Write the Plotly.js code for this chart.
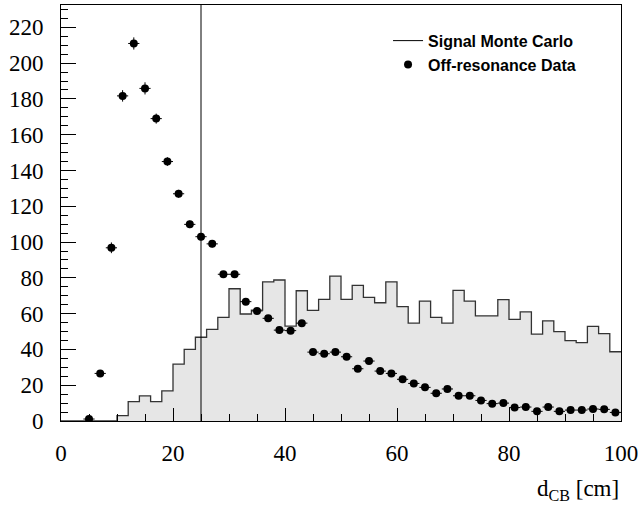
<!DOCTYPE html>
<html><head><meta charset="utf-8">
<script src="https://cdn.plot.ly/plotly-3.0.1.min.js"></script>
<style>html,body{margin:0;padding:0;background:#fff}#chart{width:640px;height:507px}</style>
</head><body><div id="chart"></div>
<script>
// Signal Monte Carlo histogram: 50 bins of width 2 cm from 0 to 100
const binEdges = [0,2,4,6,8,10,12,14,16,18,20,22,24,26,28,30,32,34,36,38,40,42,44,46,48,50,52,54,56,58,60,62,64,66,68,70,72,74,76,78,80,82,84,86,88,90,92,94,96,98,100];
const mcCounts = [0,0,0,0,0,3,10.8,14,10.8,16.8,31.8,40,46.8,51.2,57.9,73.9,59.8,62,77.8,78.8,53,72.8,61.8,68,81,68,75.8,69.1,66.1,77.8,63.9,54.7,67,57.9,54.7,73,67,58.8,58.8,67.8,56.8,61,48.6,56,49.9,44.9,43.8,52.9,48.8,38.7];

// Off-resonance data points
const dataX = [5,7,9,11,13,15,17,19,21,23,25,27,29,31,33,35,37,39,41,43,45,47,49,51,53,55,57,59,61,63,65,67,69,71,73,75,77,79,81,83,85,87,89,91,93,95,97,99];
const dataY = [1.1,26.6,96.8,181.7,211,185.9,169,145,127,109.9,103,99,82,82,66.7,61.5,57.4,50.8,50.5,54.7,38.5,37.6,38.5,35.9,29.2,33.5,27.9,26.6,23.3,21,18.8,15.5,17.9,14.1,14.1,11.5,9.7,10,7.5,7.8,5.4,7.8,5.4,6.1,6.1,6.7,6.5,4.8];
const dataErrY = [0.8,1.8,3,3.2,3.4,3.4,2.8,2.4,2.2,2.1,2,2,1.8,1.8,1.6,1.6,1.5,1.4,1.4,1.5,1.2,1.2,1.2,1.2,1.1,1.1,1,1,1,0.9,0.9,0.8,0.8,0.8,0.8,0.7,0.7,0.7,0.6,0.6,0.5,0.6,0.5,0.5,0.5,0.5,0.5,0.5];
const dataErrX = 1; // half bin width

const cutValue = 25;
const xTickVals = [0,20,40,60,80,100];
const yTickVals = [0,20,40,60,80,100,120,140,160,180,200,220];

const stepY = mcCounts.concat([mcCounts[mcCounts.length-1]]);

const traces = [
  {x: binEdges, y: stepY, type:'scatter', mode:'lines', line:{shape:'hv', color:'#333', width:1.3},
   fill:'tozeroy', fillcolor:'#e6e6e6', showlegend:false, hoverinfo:'skip'},
  {x:[null], y:[null], type:'scatter', mode:'lines', name:'<b>Signal Monte Carlo</b>', line:{color:'#000', width:1}},
  {x: dataX, y: dataY, type:'scatter', mode:'markers', name:'<b>Off-resonance Data</b>',
   marker:{color:'#000', size:8, symbol:'circle'},
   error_y:{type:'data', array:dataErrY, visible:true, color:'#000', thickness:1, width:0},
   error_x:{type:'constant', value:dataErrX, visible:true, color:'#000', thickness:1, width:0}}
];

const serif = "Liberation Serif";
const sans = "Liberation Sans";
const layout = {
  width:640, height:507,
  margin:{l:61, r:19, t:5, b:86},
  paper_bgcolor:'#fff', plot_bgcolor:'#fff',
  showlegend:true,
  legend:{x:0.584, y:0.955, xanchor:'left', yanchor:'top', bgcolor:'rgba(0,0,0,0)', borderwidth:0,
          font:{family:sans, size:16, color:'#000'}, traceorder:'normal'},
  xaxis:{range:[0,100], showgrid:false, zeroline:false, showline:true, linecolor:'#000', linewidth:1, mirror:true,
         ticks:'inside', ticklen:13, tickcolor:'#000', tickvals:xTickVals, ticktext:xTickVals.map(String),
         minor:{dtick:5, ticklen:7, ticks:'inside', tickcolor:'#000', showgrid:false},
         tickfont:{family:serif, size:23, color:'#000'}, ticklabelstandoff:11},
  yaxis:{range:[0,232.5], showgrid:false, zeroline:false, showline:true, linecolor:'#000', linewidth:1, mirror:true,
         ticks:'inside', ticklen:15, tickcolor:'#000', tickvals:yTickVals, ticktext:yTickVals.map(String),
         minor:{dtick:5, ticklen:7, ticks:'inside', tickcolor:'#000', showgrid:false},
         tickfont:{family:serif, size:23, color:'#000'}, ticklabelstandoff:12},
  shapes:[{type:'line', xref:'x', yref:'paper', x0:cutValue, x1:cutValue, y0:0, y1:1, line:{color:'#000', width:1}}],
  annotations:[{xref:'paper', yref:'paper', x:1, y:0, xanchor:'right', yanchor:'top', yshift:-53,
                text:'d<sub>CB</sub> [cm]', showarrow:false, font:{family:serif, size:23, color:'#000'}}]
};
Plotly.newPlot('chart', traces, layout, {displayModeBar:false, staticPlot:true});
</script></body></html>
